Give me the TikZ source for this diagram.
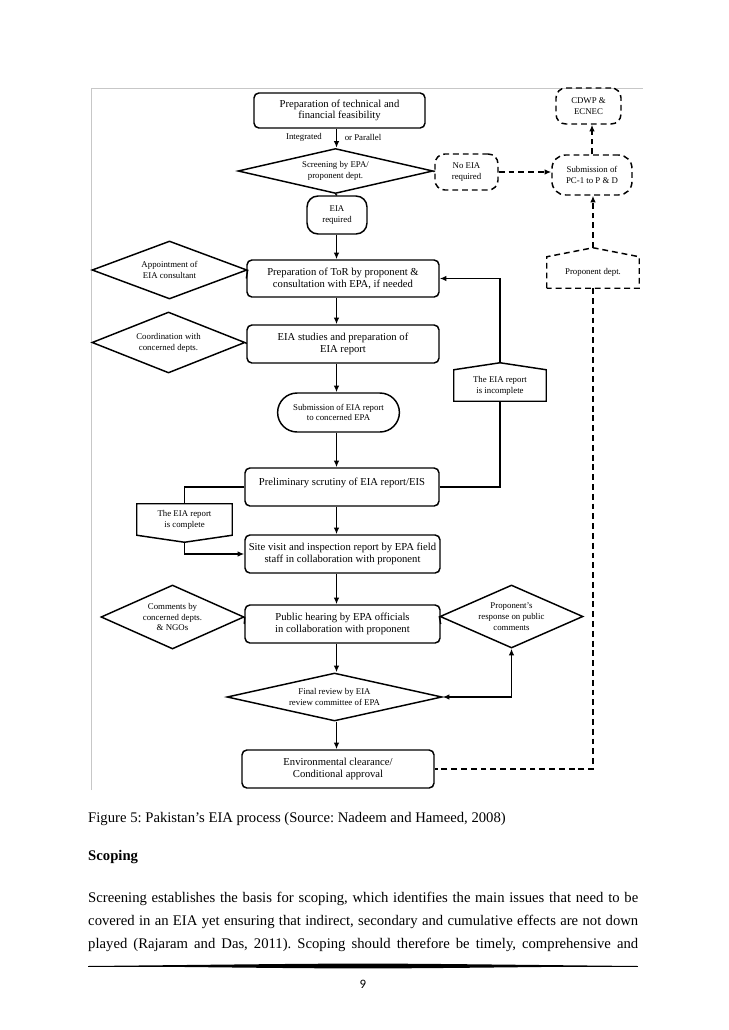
\documentclass[tikz,border=0pt]{standalone}
\usepackage{fontspec}
\setmainfont{Liberation Serif}
\newfontfamily\pnfont{Carlito}
\usetikzlibrary{shapes.geometric,shapes.misc,arrows.meta,calc}
\frenchspacing
\newcommand\mainf{\fontsize{8.7}{9.6}\selectfont}
\newcommand\smallf{\fontsize{7.2}{8.8}\selectfont}
\newcommand\ppx{*0.8173pt}
\tikzset{
  sz/.style 2 args={minimum width=#1\ppx, minimum height=#2\ppx},
  base/.style={draw, line width=1.2pt, align=center, inner sep=0.5pt},
  mainbox/.style={base, rounded corners=4pt, font=\mainf},
  dia/.style={base, diamond, font=\smallf},
  dsh/.style={dash pattern=on 4.8pt off 3.2pt},
  dbox/.style={base, dsh, rounded corners=8pt, font=\smallf},
  plain/.style={align=center, inner sep=0.5pt, font=\smallf},
  conn/.style={line width=1.1pt},
  arr/.style={conn, -{Latex[length=5.5pt,width=4.6pt]}},
  darr/.style={conn, dsh, -{Latex[length=5.5pt,width=4.6pt]}},
  dline/.style={conn, dsh},
  frame/.style={draw=black!22, line width=0.8pt},
  pagetext/.style={anchor=base west, inner sep=0pt, font=\fontsize{12}{14}\selectfont}
}
\begin{document}
\begin{tikzpicture}[x=0.8173pt,y=-0.8173pt]
\path[use as bounding box] (0,0) rectangle (728,1030);
% figure frame
\draw[frame] (91,790) -- (91,88) -- (643,88);
\coordinate (col) at (336.5,0);
% top part
\node[mainbox, sz={171}{35}] (prep) at (339.5,110.5) {Preparation of technical and\\financial feasibility};
\node[plain] (lint) at (304,137) {Integrated};
\node[plain] (lpar) at (363,137) {or Parallel};
\node[dia, sz={195}{45}, aspect=4.3] (scr) at (335.5,171) {Screening by EPA/\\proponent dept.};
\node[base, rounded corners=9pt, font=\smallf, sz={60}{38}] (req) at (337,215) {EIA\\required};
\node[dbox, sz={63}{36}] (noeia) at (466.5,172) {No EIA\\required};
\node[dbox, rounded corners=11pt, sz={80}{40}] (subpc) at (592,175) {Submission of\\PC-1 to P \& D};
\node[dbox, sz={65}{36}] (cdwp) at (588.5,106) {CDWP \&\\ECNEC};
\node[plain, sz={92}{31}] (pd) at (593,272.5) {Proponent dept.};
\draw[line width=1.2pt, dsh] (pd.south west) -- (pd.north west) -- ($(pd.north)+(0,-9)$) coordinate (pdtop) -- (pd.north east) -- (pd.south east) -- cycle;
% main column
\node[mainbox, sz={192}{37}] (tor) at (343,278.5) {Preparation of ToR by proponent \&\\consultation with EPA, if needed};
\node[dia, sz={155}{58}, aspect=3] (app) at (169.5,270) {Appointment of\\EIA consultant};
\node[mainbox, sz={192}{38}] (eias) at (343,344) {EIA studies and preparation of\\EIA report};
\node[dia, sz={153}{61}, aspect=2.6] (coord) at (168.5,342.5) {Coordination with\\concerned depts.};
\node[base, rounded rectangle, font=\smallf, sz={123}{39}] (subeia) at (338.5,412.5) {Submission of EIA report\\to concerned EPA};
\node[mainbox, sz={194}{38}] (prelim) at (342,487) {};
\node[plain, font=\mainf] (prelimtxt) at (342,482.5) {Preliminary scrutiny of EIA report/EIS};
\node[plain, sz={92}{31}] (inc) at (500,385.5) {The EIA report\\is incomplete};
\draw[line width=1.2pt] (inc.south west) -- (inc.north west) -- ($(inc.north)+(0,-7)$) coordinate (inctop) -- (inc.north east) -- (inc.south east) -- cycle;
\node[plain, sz={95}{31}] (comp) at (184.5,519.5) {The EIA report\\is complete};
\draw[line width=1.2pt] (comp.north west) -- (comp.north east) -- (comp.south east) -- ($(comp.south)+(0,7)$) coordinate (compbot) -- (comp.south west) -- cycle;
\node[mainbox, sz={195}{38}] (site) at (342.5,554) {Site visit and inspection report by EPA field\\staff in collaboration with proponent};
\node[mainbox, sz={195}{38}] (pub) at (342.5,624) {Public hearing by EPA officials\\in collaboration with proponent};
\node[dia, sz={143}{64}, aspect=2.2] (com) at (172.5,617) {Comments by\\concerned depts.\\\& NGOs};
\node[dia, sz={143}{63}, aspect=2.2] (resp) at (511.5,616.5) {Proponent's\\response on public\\comments};
\node[dia, sz={215}{48}, aspect=4.4] (fin) at (334.5,697) {Final review by EIA\\review committee of EPA};
\node[mainbox, sz={192}{38}] (env) at (338,769) {Environmental clearance/\\Conditional approval};
% connectors
\draw[arr] (prep.south -| col) -- (scr.north -| col);
\draw[conn] (scr.south) -- (req.north);
\draw[arr] (req.south -| col) -- (tor.north -| col);
\draw[conn] (scr.east) -- (noeia.west);
\draw[darr] (noeia.east) -- (subpc.west |- noeia.east);
\draw[darr] (subpc.north) -- (cdwp.south -| subpc.north);
\draw[darr] (pdtop) -- (subpc.south -| pdtop);
\draw[dline] (pd.south) -- (pd.south |- env.east) -- (env.east);
\draw[conn] (app.east) -- (tor.west);
\draw[arr] (tor.south -| col) -- (eias.north -| col);
\draw[conn] (coord.east) -- (eias.west);
\draw[arr] (eias.south -| col) -- (subeia.north -| col);
\draw[arr] (subeia.south -| col) -- (prelim.north -| col);
\draw[conn] (prelim.east) -- (prelim.east -| inc.south) -- (inc.south);
\draw[arr] (inctop) -- (inctop |- tor.east) -- (tor.east);
\draw[conn] (prelim.west) -- (prelim.west -| comp.north) -- (comp.north);
\draw[arr] (compbot) -- (compbot |- site.west) -- (site.west);
\draw[arr] (prelim.south -| col) -- (site.north -| col);
\draw[arr] (site.south -| col) -- (pub.north -| col);
\draw[conn] (com.east) -- (pub.west);
\draw[conn] (resp.west) -- (pub.east);
\draw[arr] (pub.south -| col) -- (fin.north -| col);
\draw[conn, {Latex[length=5.5pt,width=4.6pt]}-{Latex[length=5.5pt,width=4.6pt]}] (fin.east) -- (fin.east -| resp.south) -- (resp.south);
\draw[arr] (fin.south -| col) -- (env.north -| col);
% page text
\node[pagetext] (cap) at (88,822) {Figure 5: Pakistan’s EIA process (Source: Nadeem and Hameed, 2008)};
\node[pagetext, font=\fontsize{12}{14}\selectfont\bfseries] (scop) at (88,860) {Scoping};
\node[pagetext] (l1) at (88,902) {\makebox[449.5pt][s]{Screening establishes the basis for scoping, which identifies the main issues that need to be}};
\node[pagetext] (l2) at (88,925) {\makebox[449.5pt][s]{covered in an EIA yet ensuring that indirect, secondary and cumulative effects are not down}};
\node[pagetext] (l3) at (88,948) {\makebox[449.5pt][s]{played (Rajaram and Das, 2011). Scoping should therefore be timely, comprehensive and}};
\fill (88,966) .. controls (250,964.4) and (300,963.6) .. (363,963.6) .. controls (426,963.6) and (476,964.4) .. (638,966) .. controls (476,967.6) and (426,968.4) .. (363,968.4) .. controls (300,968.4) and (250,967.6) .. (88,966) -- cycle;
\draw[line width=0.5pt] (88,966) -- (638,966);
\node[inner sep=0pt, anchor=base, font=\pnfont\fontsize{10.5}{12}\selectfont] (pn) at (363,988) {9};
\end{tikzpicture}
\end{document}
